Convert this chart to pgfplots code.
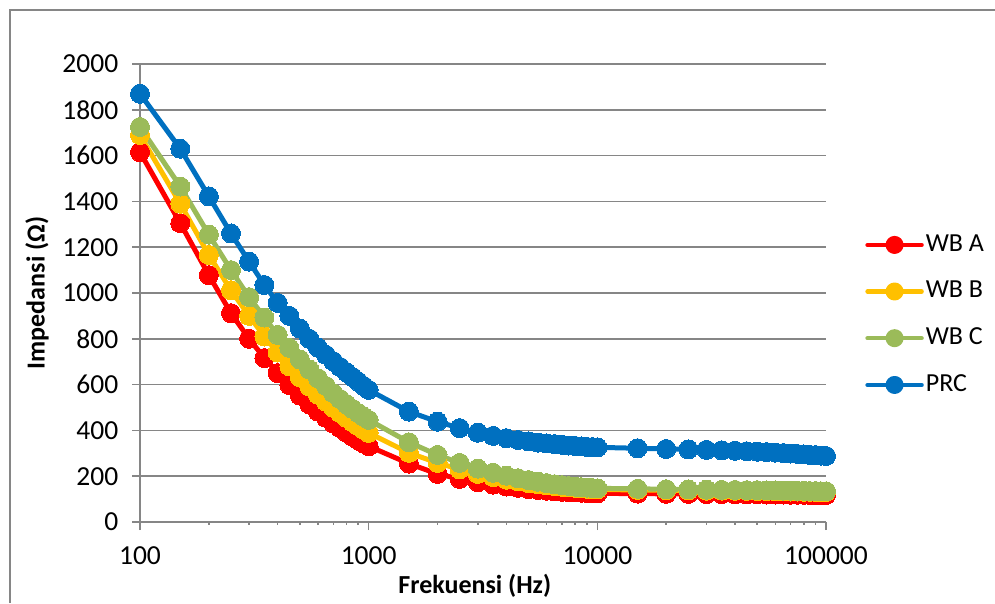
\documentclass[border=0pt]{standalone}
\usepackage{pgfplots}
\pgfplotsset{compat=1.18}
\usepackage{pgfplotstable}
\usepackage{fontspec}
\setmainfont{Carlito}
\definecolor{cA}{HTML}{FF0000}
\definecolor{cB}{HTML}{FFC000}
\definecolor{cC}{HTML}{9BBB59}
\definecolor{cP}{HTML}{0070C0}
\definecolor{axgray}{HTML}{868686}

\pgfplotstableread{
f A B C P
100 1615 1690 1725 1870
150 1305 1390 1465 1630
200 1078 1166 1255 1422
250 912 1012 1100 1260
300 800 900 982 1137
350 716 810 893 1035
400 650 740 817 957
450 598 680 760 900
500 552 632 710 845
550 514 592 666 800
600 482 556 628 762
650 455 526 594 730
700 431 499 563 702
750 410 476 537 677
800 390 455 514 654
850 373 436 494 633
900 357 419 476 613
950 343 403 460 594
1000 331 389 446 577
1500 255 302 348 482
2000 210 258 293 438
2500 188 230 258 410
3000 174 210 233 390
3500 163 196 215 376
4000 155 185 202 366
4500 149 177 191 358
5000 144 170 183 352
5500 140 165 176 347
6000 137 160 170 343
6500 134 157 165 340
7000 132 154 161 337
7500 130 151 157 334
8000 129 149 154 332
8500 128 147 152 330
9000 127 145 150 328
9500 126 143 148 327
10000 125 142 147 326
15000 124 140 145 322
20000 123 139 143 319
25000 123 138 142 317
30000 122 137 141 315
35000 122 137 140 313
40000 121 136 140 311
45000 121 136 139 309
50000 121 135 139 307
55000 120 135 138 305
60000 120 134 138 303
65000 120 134 137 301
70000 119 133 137 299
75000 119 133 136 297
80000 119 132 136 295
85000 118 132 135 293
90000 118 131 135 292
95000 118 131 134 290
100000 118 131 134 288
}\datatab

\begin{document}
\fontsize{26}{31}\selectfont
\begin{tikzpicture}
\useasboundingbox (0,0) rectangle (995pt,603pt);
\draw[color=axgray, line width=1.3pt] (10pt,0) -- (10pt,593pt) -- (995pt,593pt);
\begin{axis}[
  at={(140pt,81pt)}, anchor=south west,
  scale only axis, width=686pt, height=458pt,
  xmode=log, xmin=100, xmax=100000,
  ymin=0, ymax=2000,
  ytick={0,200,...,2000},
  xtick={100,1000,10000,100000},
  xticklabels={100,1000,10000,100000},
  minor xtick={},
  axis x line*=bottom, axis y line*=left,
  axis line style={color=axgray, line width=1.5pt, -},
  ymajorgrids,
  grid style={color=axgray, line width=1.5pt},
  tick style={color=axgray, line width=1.5pt},
  tick align=outside,
  major tick length=8pt,
  clip=false,
  tick label style={font=\fontsize{27.5}{33}\selectfont, text=black},
  yticklabel style={xshift=-5pt},
  xticklabel style={yshift=-7.5pt},
  /pgf/number format/assume math mode=true,
  /pgf/number format/1000 sep={},
  xlabel={\bfseries Frekuensi (Hz)},
  ylabel={\bfseries Impedansi (Ω)},
  label style={font=\fontsize{26}{31}\selectfont},
  xlabel style={at={(axis description cs:0.488,-0.140)}, anchor=center},
  ylabel style={at={(axis description cs:-0.150,0.5)}, anchor=center},
  legend style={at={(axis description cs:1.057,0.452)}, anchor=west,
    draw=none, fill=none, row sep=22pt,
    font=\fontsize{26}{31}\selectfont,
    inner sep=0pt, nodes={inner sep=2pt}},
  legend cell align=left,
  legend image code/.code={
    \draw[line width=4.5pt, line cap=round] (0pt,0pt) -- (54pt,0pt);
    \fill (27pt,0pt) circle (6.5pt);
  },
  every axis plot/.append style={line width=5pt, mark=*, mark size=9.5pt,
    line join=round},
]
\addplot[color=cA, mark options={fill=cA, draw=cA, line width=0pt}] table[x=f,y=A] {\datatab};
\addlegendentry{WB A}
\addplot[color=cB, mark options={fill=cB, draw=cB, line width=0pt}] table[x=f,y=B] {\datatab};
\addlegendentry{WB B}
\addplot[color=cC, mark options={fill=cC, draw=cC, line width=0pt}] table[x=f,y=C] {\datatab};
\addlegendentry{WB C}
\addplot[color=cP, mark options={fill=cP, draw=cP, line width=0pt}] table[x=f,y=P] {\datatab};
\addlegendentry{PRC}
\end{axis}
\end{tikzpicture}
\end{document}
